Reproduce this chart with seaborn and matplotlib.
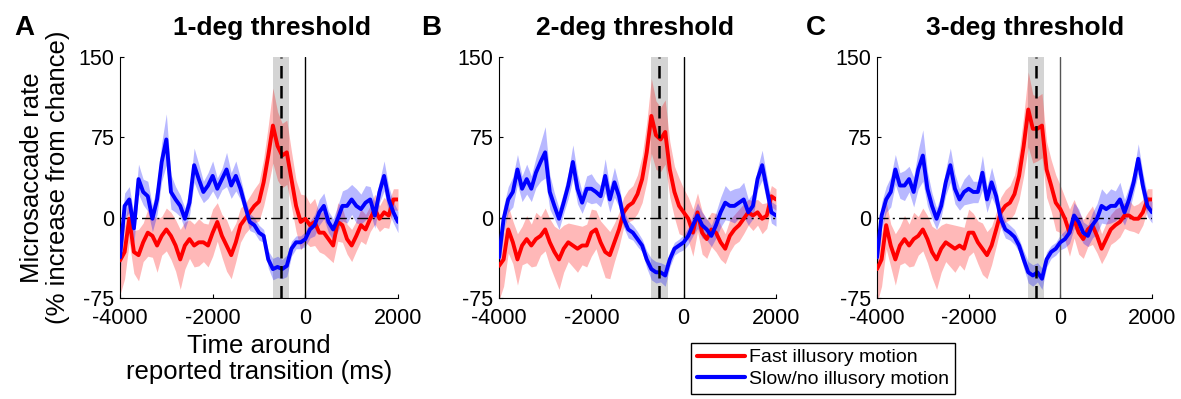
import matplotlib
matplotlib.use("Agg")
import matplotlib.pyplot as plt
import numpy as np
import pandas as pd
import seaborn as sns
from matplotlib.lines import Line2D

# sample grid (ms around reported transition)
time_ms = list(range(-4000, 2001, 100))

titles = ["1-deg threshold", "2-deg threshold", "3-deg threshold"]
panel_letters = ["A", "B", "C"]
cond_fast = "Fast illusory motion"
cond_slow = "Slow/no illusory motion"

# microsaccade rate (% increase from chance)
a_fast = [-40, -32, -1, -32, -35, -23, -14, -17, -26, -17,
          -11, -17, -26, -39, -26, -20, -26, -23, -23, -26,
          -14, -4, -17, -26, -35, -23, -7, -1, 5, 11,
          15, 33, 58, 86, 67, 58, 61, 36, 11, -4,
          -1, -7, -4, -14, -14, -20, -26, -4, -7, -20,
          -26, -17, -7, -11, -1, 8, -1, 5, 2, 17, 17]
a_slow = [-37, 11, 17, -10, 36, 24, 20, -1, 17, 52,
          73, 24, 17, 11, -1, 14, 49, 36, 24, 30,
          39, 27, 36, 45, 30, 39, 27, 11, -4, -7,
          -14, -17, -39, -48, -46, -48, -45, -29, -23, -23,
          -20, -11, -7, 5, 11, -4, -11, -1, 11, 11,
          17, 11, 8, 14, 17, 2, 24, 39, 17, 5, -4]
b_fast = [-45, -39, -11, -23, -39, -26, -20, -26, -20, -17,
          -11, -23, -32, -39, -29, -23, -26, -29, -26, -26,
          -14, -11, -23, -32, -35, -23, -11, 5, 11, 14,
          22, 36, 61, 95, 77, 73, 80, 45, 24, 11,
          5, -1, -14, 5, -14, -20, -11, -14, -23, -29,
          -17, -11, -7, -1, 5, 2, 5, -1, 2, 20, 17]
b_slow = [-37, -1, 17, 24, 45, 27, 36, 27, 42, 52,
          61, 24, 11, -1, 14, 30, 52, 27, 14, 27,
          27, 24, 20, 39, 17, 33, 20, -1, -11, -14,
          -20, -26, -39, -48, -51, -51, -54, -39, -29, -26,
          -23, -17, -7, 2, -7, -11, -17, -7, 5, 14,
          11, 11, 14, 17, 5, 11, 36, 49, 27, 5, 2]
c_fast = [-48, -39, -7, -26, -39, -26, -20, -26, -20, -17,
          -11, -20, -32, -39, -29, -23, -26, -29, -26, -29,
          -14, -14, -23, -29, -35, -26, -11, 5, 11, 14,
          22, 39, 67, 101, 83, 83, 86, 45, 30, 14,
          8, -1, -14, -1, -14, -20, -11, -7, -17, -29,
          -20, -11, -7, -4, 2, 2, -1, -1, 5, 17, 17]
c_slow = [-37, 2, 17, 24, 45, 30, 30, 36, 24, 45,
          58, 27, 11, -1, 11, 33, 49, 27, 17, 24,
          27, 24, 24, 42, 17, 33, 20, -1, -11, -14,
          -18, -26, -39, -51, -54, -51, -57, -39, -32, -29,
          -23, -20, -14, 2, -4, -14, -17, -7, -1, 11,
          8, 11, 11, 17, 5, 17, 33, 55, 30, 11, 5]

# approximate s.e.m. half widths of the shaded bands
fast_err = [32, 25, 22, 20, 24, 18, 22, 20, 25, 18,
            20, 22, 24, 28, 22, 18, 20, 22, 18, 20,
            22, 18, 20, 24, 22, 18, 16, 14, 15, 16,
            18, 22, 28, 35, 32, 30, 30, 26, 24, 26,
            22, 20, 22, 18, 20, 18, 16, 18, 16, 14,
            15, 14, 15, 14, 12, 14, 12, 14, 12, 10, 10]
slow_err = [15, 12, 12, 14, 14, 12, 14, 12, 14, 18,
            24, 16, 12, 10, 10, 12, 16, 14, 10, 12,
            14, 10, 10, 16, 12, 14, 10, 8, 8, 7,
            7, 6, 8, 10, 10, 9, 10, 7, 6, 6,
            7, 8, 10, 12, 12, 10, 10, 12, 14, 16,
            14, 16, 14, 16, 12, 12, 10, 14, 12, 10, 10]

# perceived transition window (gray) and its centre (dashed)
window_ms = (-700, -350)
window_centre = -525

panels = [(a_fast, a_slow), (b_fast, b_slow), (c_fast, c_slow)]

sns.set_theme(style="white")
plt.rcParams["font.family"] = ["Liberation Sans", "DejaVu Sans"]
plt.rcParams["axes.unicode_minus"] = False
for key in ["text.color", "axes.labelcolor", "xtick.color", "ytick.color"]:
    plt.rcParams[key] = "black"

fig = plt.figure(figsize=(11.81, 3.99), dpi=100)
lefts = [120, 499, 877]
widths = [278, 277, 275]
title_x = [272, 635, 1025]
letter_x = [14, 421, 806]
palette = {cond_fast: "#ff0000", cond_slow: "#0000ff"}

for i, (fast, slow) in enumerate(panels):
    ax = fig.add_axes([lefts[i] / 1181, 1 - 298 / 399, widths[i] / 1181, 241 / 399])
    df = pd.DataFrame({
        "time": time_ms * 2,
        "rate": fast + slow,
        "err": fast_err + slow_err,
        "condition": [cond_fast] * len(time_ms) + [cond_slow] * len(time_ms),
    })

    ax.axvspan(*window_ms, color="#d4d4d4", lw=0, zorder=0)
    for cond, sub in df.groupby("condition"):
        ax.fill_between(sub["time"], sub["rate"] - sub["err"], sub["rate"] + sub["err"],
                        color=palette[cond], alpha=0.28, lw=0, zorder=1)
    ax.axhline(0, color="black", lw=1, ls=(0, (8, 3, 1.5, 3)), zorder=2)
    ax.axvline(0, color="black" if i < 2 else "#555555", lw=1, zorder=2)
    sns.lineplot(data=df, x="time", y="rate", hue="condition", palette=palette,
                 hue_order=[cond_fast, cond_slow], lw=2.8, legend=False, ax=ax, zorder=3)
    ax.axvline(window_centre, color="black", lw=1.8, ls=(0, (5, 3)), zorder=4)

    ax.set_xlim(-4000, 2000)
    ax.set_ylim(-75, 150)
    ax.set_xticks([-4000, -2000, 0, 2000])
    ax.set_yticks([-75, 0, 75, 150])
    ax.tick_params(direction="in", length=3, width=0.8, labelsize=15.5, pad=4,
                   bottom=True, left=True, colors="black")
    ax.tick_params(axis="x", pad=7)
    sns.despine(ax=ax)
    for s in ["left", "bottom"]:
        ax.spines[s].set_color("black")
        ax.spines[s].set_linewidth(0.8)

    if i == 0:
        ax.set_ylabel("Microsaccade rate\n(% increase from chance)", fontsize=18.5,
                      labelpad=6, linespacing=1.1)
        ax.set_xlabel("Time around\nreported transition (ms)", fontsize=18.5,
                      labelpad=4, linespacing=1.1)
    else:
        ax.set_ylabel("")
        ax.set_xlabel("")

    fig.text(title_x[i] / 1181, 1 - 35 / 399, titles[i], ha="center", va="baseline",
             fontsize=19, fontweight="bold")
    fig.text(letter_x[i] / 1181, 1 - 35 / 399, panel_letters[i], ha="left", va="baseline",
             fontsize=20, fontweight="bold")

handles = [Line2D([], [], color=palette[cond_fast], lw=3),
           Line2D([], [], color=palette[cond_slow], lw=3)]
leg = fig.legend(handles, [cond_fast, cond_slow], loc="upper left",
                 bbox_to_anchor=(691 / 1181, 1 - 343 / 399), fontsize=14,
                 frameon=True, fancybox=False, edgecolor="black", framealpha=1,
                 handlelength=2.5, handletextpad=0.2, borderpad=0.3,
                 labelspacing=0.2, borderaxespad=0)
leg.get_frame().set_linewidth(1)

fig.savefig("out.png", dpi=100)
